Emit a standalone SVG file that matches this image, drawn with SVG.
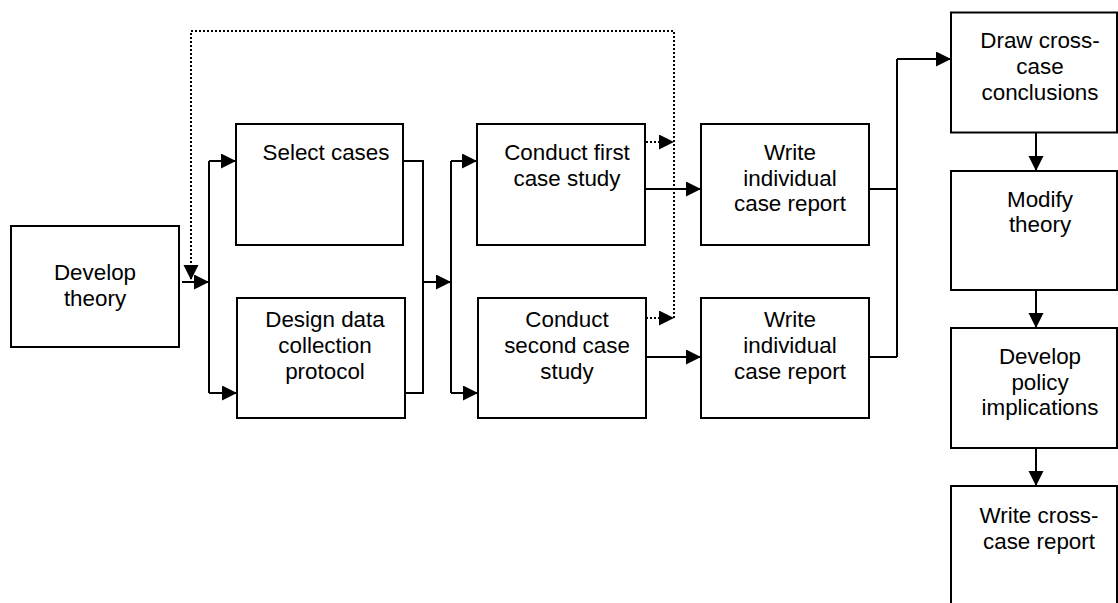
<svg xmlns="http://www.w3.org/2000/svg" width="1118" height="603" viewBox="0 0 1118 603">
<style>
.box{fill:#fff;stroke:#000;stroke-width:2}
.t{font-family:"Liberation Sans",Arial,sans-serif;font-size:22.4px;fill:#000;text-anchor:middle}
.c{fill:none;stroke:#000;stroke-width:2}
.d{fill:none;stroke:#000;stroke-width:2;stroke-dasharray:2 2}
</style>
<defs>
<marker id="ah" markerUnits="userSpaceOnUse" markerWidth="16" markerHeight="16" refX="15" refY="7.5" orient="auto">
<path d="M0,0 L15,7.5 L0,15 z" fill="#000"/>
</marker>
</defs>
<rect width="1118" height="603" fill="#fff"/>
<g id="connectors">
<path class="c" d="M182 282 H209" marker-end="url(#ah)"/>
<path class="c" d="M209 161 V393"/>
<path class="c" d="M209 161 H236" marker-end="url(#ah)"/>
<path class="c" d="M209 393 H237" marker-end="url(#ah)"/>
<path class="c" d="M404 161 H423 V393 H405"/>
<path class="c" d="M423 282 H451" marker-end="url(#ah)"/>
<path class="c" d="M451 161 V393"/>
<path class="c" d="M451 161 H477" marker-end="url(#ah)"/>
<path class="c" d="M451 393 H478" marker-end="url(#ah)"/>
<path class="c" d="M646 189 H701" marker-end="url(#ah)"/>
<path class="c" d="M646 357 H701" marker-end="url(#ah)"/>
<path class="c" d="M869 189 H897"/>
<path class="c" d="M869 357 H897"/>
<path class="c" d="M897 357 V59"/>
<path class="c" d="M897 59 H951" marker-end="url(#ah)"/>
<path class="c" d="M1036 133 V171" marker-end="url(#ah)"/>
<path class="c" d="M1036 291 V328" marker-end="url(#ah)"/>
<path class="c" d="M1036 449 V486" marker-end="url(#ah)"/>
<path class="d" d="M674 318 V31 H191 V280" marker-end="url(#ah)"/>
<path class="d" d="M646 142 H674" marker-end="url(#ah)"/>
<path class="d" d="M646 318 H674" marker-end="url(#ah)"/>
</g>
<g id="develop-theory">
<rect class="box" x="11" y="226" width="168" height="121"/>
<text class="t" x="95" y="280">Develop</text>
<text class="t" x="95" y="306">theory</text>
</g>
<g id="select-cases">
<rect class="box" x="236" y="124" width="167" height="121"/>
<text class="t" x="326" y="160">Select cases</text>
</g>
<g id="design-protocol">
<rect class="box" x="237" y="298" width="168" height="120"/>
<text class="t" x="325" y="327">Design data</text>
<text class="t" x="325" y="352.5">collection</text>
<text class="t" x="325" y="378.5">protocol</text>
</g>
<g id="conduct-first">
<rect class="box" x="477" y="124" width="168" height="121"/>
<text class="t" x="567" y="160">Conduct first</text>
<text class="t" x="567" y="185.7">case study</text>
</g>
<g id="conduct-second">
<rect class="box" x="478" y="298" width="168" height="120"/>
<text class="t" x="567" y="327">Conduct</text>
<text class="t" x="567" y="352.5">second case</text>
<text class="t" x="567" y="378.5">study</text>
</g>
<g id="write-report-1">
<rect class="box" x="701" y="124" width="168" height="121"/>
<text class="t" x="790" y="160">Write</text>
<text class="t" x="790" y="185.7">individual</text>
<text class="t" x="790" y="211">case report</text>
</g>
<g id="write-report-2">
<rect class="box" x="701" y="298" width="168" height="120"/>
<text class="t" x="790" y="327">Write</text>
<text class="t" x="790" y="352.5">individual</text>
<text class="t" x="790" y="378.5">case report</text>
</g>
<g id="draw-conclusions">
<rect class="box" x="951" y="12.5" width="166" height="120"/>
<text class="t" x="1040" y="47.7">Draw cross-</text>
<text class="t" x="1040" y="74">case</text>
<text class="t" x="1040" y="100">conclusions</text>
</g>
<g id="modify-theory">
<rect class="box" x="951" y="171" width="166" height="119"/>
<text class="t" x="1040" y="207.3">Modify</text>
<text class="t" x="1040" y="232.3">theory</text>
</g>
<g id="policy-implications">
<rect class="box" x="951" y="328" width="166" height="120"/>
<text class="t" x="1040" y="364">Develop</text>
<text class="t" x="1040" y="390">policy</text>
<text class="t" x="1040" y="415">implications</text>
</g>
<g id="write-cross-case">
<rect class="box" x="951" y="486" width="166" height="130"/>
<text class="t" x="1039" y="522.7">Write cross-</text>
<text class="t" x="1039" y="549">case report</text>
</g>
</svg>
